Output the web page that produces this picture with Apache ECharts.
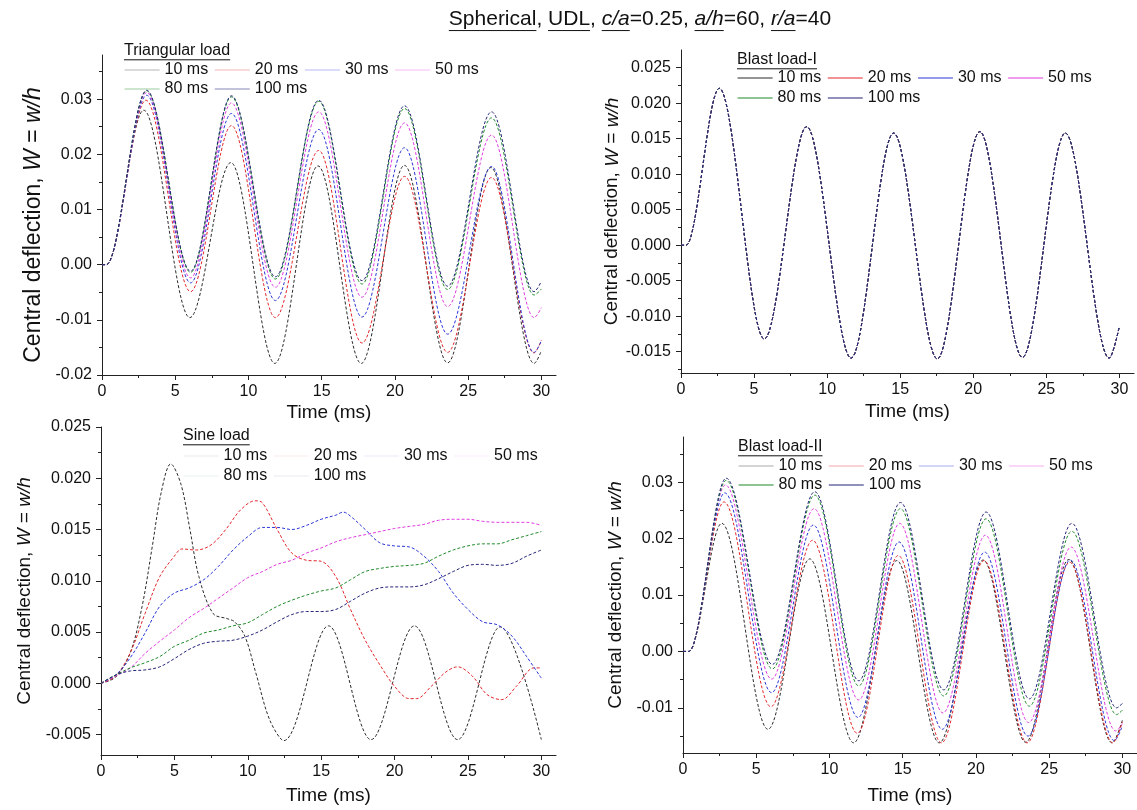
<!DOCTYPE html>
<html><head><meta charset="utf-8">
<script src="https://cdn.jsdelivr.net/npm/echarts@6/dist/echarts.min.js"></script>
<style>html,body{margin:0;padding:0;background:#fff}#c{width:1137px;height:810px}</style>
</head><body><div id="c"></div>
<script>
const FONT = '"Liberation Sans", Arial, sans-serif';
const SERIES_NAMES = ['10 ms', '20 ms', '30 ms', '50 ms', '80 ms', '100 ms'];
const COLORS = ['#2b2b2b', '#e3262b', '#2b35d6', '#e03ae0', '#1f8a2a', '#232379'];
const X_TICKS = [0, 5, 10, 15, 20, 25, 30];
const X_MINOR = [2.5, 7.5, 12.5, 17.5, 22.5, 27.5];

// ---------- Triangular load (time ms, W) ----------
const tri10 = [[0,0],[0.3,0],[2.85,0.0280],[6.0,-0.0096],[8.8,0.0185],[11.8,-0.0179],[14.75,0.0179],[17.7,-0.0179],[20.65,0.0180],[23.6,-0.0178],[26.55,0.0176],[29.5,-0.0179],[30,-0.0156]];
const tri20 = [[0,0],[0.3,0],[3.0,0.0298],[6.05,-0.0049],[8.84,0.0252],[11.84,-0.0096],[14.8,0.0207],[17.75,-0.0142],[20.66,0.0160],[23.6,-0.0159],[26.6,0.0158],[29.5,-0.0160],[30,-0.0137]];
const tri30 = [[0,0],[0.3,0],[3.05,0.0307],[6.05,-0.0033],[8.84,0.0274],[11.84,-0.0065],[14.8,0.0245],[17.75,-0.0095],[20.66,0.0212],[23.6,-0.0126],[26.6,0.0178],[29.5,-0.0159],[30,-0.0138]];
const tri50 = [[0,0],[0.3,0],[3.05,0.0312],[6.05,-0.0024],[8.84,0.0293],[11.84,-0.0041],[14.8,0.0277],[17.75,-0.0059],[20.66,0.0257],[23.6,-0.0076],[26.6,0.0235],[29.5,-0.0096],[30,-0.0078]];
const tri80 = [[0,0],[0.3,0],[3.05,0.0315],[6.05,-0.0014],[8.84,0.0304],[11.84,-0.0026],[14.8,0.0296],[17.75,-0.0035],[20.66,0.0283],[23.6,-0.0045],[26.6,0.0266],[29.5,-0.0055],[30,-0.0044]];
const tri100 = [[0,0],[0.3,0],[3.05,0.0316],[6.05,-0.0012],[8.84,0.0306],[11.84,-0.0022],[14.8,0.0298],[17.75,-0.0029],[20.66,0.0288],[23.6,-0.0039],[26.6,0.0277],[29.5,-0.0049],[30,-0.0030]];

// ---------- Blast load-I (all durations coincide) ----------
const blastI = [[0,0],[0.35,0],[2.62,0.0221],[5.7,-0.0132],[8.6,0.0167],[11.64,-0.0159],[14.55,0.0158],[17.54,-0.0160],[20.45,0.0160],[23.36,-0.0158],[26.3,0.0158],[29.3,-0.0159],[30,-0.0114]];

// ---------- Sine load ----------
const sin10 = [[0,0],[1,0.0006],[2,0.0030],[2.8,0.0075],[3.5,0.0134],[4.1,0.0186],[4.75,0.0214],[5.45,0.0194],[6.06,0.0150],[6.67,0.0104],[7.64,0.0068],[8.6,0.0063],[9.1,0.0060],[9.8,0.0046],[10.55,0.0010],[11.5,-0.0036],[12.45,-0.0056],[15.5,0.0056],[18.4,-0.0055],[21.35,0.0056],[24.3,-0.0055],[27.2,0.0055],[30,-0.0055]];
const sin20 = [[0,0],[1,0.0007],[2,0.0030],[3,0.0068],[4,0.0104],[5,0.0124],[5.5,0.0131],[6.5,0.0130],[7.5,0.0135],[8.5,0.0150],[9.5,0.0169],[10.5,0.0178],[11,0.0176],[12,0.0150],[13,0.0127],[14,0.0120],[15,0.0119],[16,0.0104],[17,0.0072],[18,0.0042],[19,0.0018],[20,-0.0003],[21,-0.0015],[21.5,-0.0015],[22.5,-0.0003],[23.5,0.0011],[24.3,0.0016],[25.3,0.0007],[26.3,-0.0011],[27.3,-0.0016],[28.3,-0.0003],[29.5,0.0015],[30,0.0015]];
const sin30 = [[0,0],[1,0.0008],[2,0.0025],[3,0.0049],[4,0.0075],[5,0.0088],[6,0.0093],[7,0.0101],[8,0.0114],[9,0.0130],[10,0.0143],[11,0.0152],[12,0.0152],[13,0.0150],[14,0.0154],[15,0.0160],[16,0.0164],[16.5,0.0167],[17,0.0163],[18,0.0150],[19,0.0137],[20,0.0134],[21,0.0133],[22,0.0124],[23,0.0109],[24,0.0088],[25,0.0072],[26,0.0060],[27,0.0057],[28,0.0046],[29,0.0026],[30,0.0005]];
const sin50 = [[0,0],[1,0.0007],[2,0.0015],[3,0.0029],[4,0.0041],[5,0.0052],[6,0.0064],[7,0.0073],[8,0.0083],[9,0.0093],[10,0.0103],[11,0.0109],[12,0.0116],[13,0.0120],[14,0.0127],[15,0.0132],[16,0.0138],[17,0.0142],[18,0.0145],[19,0.0148],[20,0.0151],[21,0.0153],[22,0.0155],[23,0.0159],[24,0.0160],[25,0.0160],[26,0.0158],[27,0.0157],[28,0.0157],[29,0.0157],[30,0.0154]];
const sin80 = [[0,0],[1,0.0008],[2,0.0015],[3,0.0020],[4,0.0026],[5,0.0036],[6,0.0042],[7,0.0049],[8,0.0052],[9,0.0056],[10,0.0059],[11,0.0067],[12,0.0075],[13,0.0081],[14,0.0086],[15,0.0090],[16,0.0093],[17,0.0101],[18,0.0109],[19,0.0112],[20,0.0114],[21,0.0115],[22,0.0117],[23,0.0124],[24,0.0130],[25,0.0134],[26,0.0136],[27,0.0136],[28,0.0140],[29,0.0144],[30,0.0148]];
const sin100 = [[0,0],[1,0.0008],[2,0.0012],[3,0.0013],[4,0.0016],[5,0.0024],[6,0.0033],[7,0.0039],[8,0.0041],[9,0.0042],[10,0.0046],[11,0.0052],[12,0.0060],[13,0.0067],[14,0.0070],[15,0.0070],[16,0.0072],[17,0.0080],[18,0.0088],[19,0.0093],[20,0.0094],[21,0.0094],[22,0.0096],[23,0.0102],[24,0.0109],[25,0.0115],[26,0.0116],[27,0.0115],[28,0.0117],[29,0.0124],[30,0.0130]];

// ---------- Blast load-II ----------
const bl2_10 = [[0,0],[0.4,0],[2.65,0.0227],[5.8,-0.0138],[8.65,0.0164],[11.65,-0.0162],[14.6,0.0161],[17.5,-0.0162],[20.5,0.0162],[23.4,-0.0161],[26.35,0.0163],[29.3,-0.0162],[30,-0.0122]];
const bl2_20 = [[0,0],[0.4,0],[2.8,0.0265],[6.0,-0.0098],[8.85,0.0197],[11.9,-0.0145],[14.7,0.0170],[17.65,-0.0162],[20.55,0.0161],[23.5,-0.0162],[26.4,0.0158],[29.35,-0.0162],[30,-0.0125]];
const bl2_30 = [[0,0],[0.4,0],[2.85,0.0281],[6.05,-0.0073],[8.9,0.0224],[11.95,-0.0117],[14.75,0.0194],[17.7,-0.0138],[20.6,0.0176],[23.55,-0.0150],[26.45,0.0162],[29.45,-0.0158],[30,-0.0132]];
const bl2_50 = [[0,0],[0.4,0],[2.9,0.0295],[6.05,-0.0049],[8.95,0.0253],[12.0,-0.0086],[14.8,0.0227],[17.75,-0.0109],[20.65,0.0206],[23.6,-0.0126],[26.5,0.0185],[29.55,-0.0141],[30,-0.0128]];
const bl2_80 = [[0,0],[0.4,0],[2.95,0.0303],[6.1,-0.0031],[9.0,0.0277],[12.0,-0.0061],[14.85,0.0253],[17.8,-0.0079],[20.7,0.0235],[23.65,-0.0097],[26.55,0.0213],[29.6,-0.0112],[30,-0.0104]];
const bl2_100 = [[0,0],[0.4,0],[2.95,0.0307],[6.1,-0.0023],[9.0,0.0283],[12.0,-0.0052],[14.85,0.0264],[17.8,-0.0068],[20.7,0.0247],[23.65,-0.0084],[26.55,0.0227],[29.6,-0.0100],[30,-0.0092]];

// ---------- axis tick values ----------
const TL_Y = [-0.02, -0.01, 0, 0.01, 0.02, 0.03];
const TL_YMIN = [-0.015, -0.005, 0.005, 0.015, 0.025, 0.035];
const TR_Y = [-0.015, -0.01, -0.005, 0, 0.005, 0.01, 0.015, 0.02, 0.025];
const TR_YMIN = [-0.0175, -0.0125, -0.0075, -0.0025, 0.0025, 0.0075, 0.0125, 0.0175, 0.0225];
const BL_Y = [-0.005, 0, 0.005, 0.01, 0.015, 0.02, 0.025];
const BL_YMIN = [-0.0025, 0.0025, 0.0075, 0.0125, 0.0175, 0.0225];
const BR_Y = [-0.01, 0, 0.01, 0.02, 0.03];
const BR_YMIN = [-0.015, -0.005, 0.005, 0.015, 0.025, 0.035];

const panels = [
  { grid: {left: 102, top: 55, width: 454, height: 320}, ymin: -0.02, ymax: 0.038, yt: TL_Y, ym: TL_YMIN, dec: 2,
    data: [tri10, tri20, tri30, tri50, tri80, tri100], mono: true, yGap: 57, xGap: 28, yFs: 23, yPad: [0, 20, 0, 0],
    lg: {title: 'Triangular load', left: 124, t: 51, r1: 70, r2: 89, op: [0.35, 0.35, 0.35, 0.35, 0.45, 0.55]} },
  { grid: {left: 681, top: 50, width: 453, height: 323}, ymin: -0.018, ymax: 0.0275, yt: TR_Y, ym: TR_YMIN, dec: 3,
    data: [blastI, blastI, blastI, blastI, blastI, blastI], mono: true, yGap: 57, xGap: 29, yFs: 19, yPad: 0,
    lg: {title: 'Blast load-I', left: 737, t: 60, r1: 78, r2: 98, op: [1, 1, 1, 1, 1, 1]} },
  { grid: {left: 101, top: 427, width: 455, height: 328}, ymin: -0.007, ymax: 0.025, yt: BL_Y, ym: BL_YMIN, dec: 3,
    data: [sin10, sin20, sin30, sin50, sin80, sin100], mono: false, yGap: 67, xGap: 31, yFs: 19, yPad: 0,
    lg: {title: 'Sine load', left: 183, t: 436, r1: 456, r2: 476, op: [0.1, 0.1, 0.1, 0.1, 0.1, 0.1]} },
  { grid: {left: 683, top: 437, width: 457, height: 316}, ymin: -0.018, ymax: 0.038, yt: BR_Y, ym: BR_YMIN, dec: 2,
    data: [bl2_10, bl2_20, bl2_30, bl2_50, bl2_80, bl2_100], mono: true, yGap: 58, xGap: 33, yFs: 19, yPad: 0,
    lg: {title: 'Blast load-II', left: 738, t: 447, r1: 466, r2: 485, op: [0.4, 0.4, 0.4, 0.4, 1, 1]} }
];

const mctx = document.createElement('canvas').getContext('2d');
function measure(text, size, italic) {
  mctx.font = (italic ? 'italic ' : '') + size + 'px "Liberation Sans"';
  return mctx.measureText(text).width;
}
function underlinedText(segs, x, y, size, align) {
  const total = segs.reduce((s, g) => s + measure(g.t, size, g.i), 0);
  let cx = align === 'center' ? x - total / 2 : x;
  const els = [];
  segs.forEach(g => {
    const w = measure(g.t, size, g.i);
    els.push({ type: 'text', x: cx, y: y, silent: true,
      style: { text: g.t, font: (g.i ? 'italic ' : '') + size + 'px "Liberation Sans"', fill: '#111', align: 'left', verticalAlign: 'middle' } });
    if (g.u) els.push({ type: 'line', silent: true, shape: { x1: cx, y1: y + size * 0.55, x2: cx + w, y2: y + size * 0.55 }, style: { stroke: '#111', lineWidth: 1 } });
    cx += w;
  });
  return els;
}

const grids = [], xAxes = [], yAxes = [], series = [], legends = [];
let graphics = underlinedText([
  {t: 'Spherical', u: 1}, {t: ', '}, {t: 'UDL', u: 1}, {t: ', '}, {t: 'c/a', u: 1, i: 1}, {t: '=0.25, '},
  {t: 'a/h', u: 1, i: 1}, {t: '=60, '}, {t: 'r/a', u: 1, i: 1}, {t: '=40'}
], 640, 19, 21, 'center');

const axisCol = '#222';
panels.forEach((p, gi) => {
  grids.push(Object.assign({ containLabel: false }, p.grid));
  xAxes.push({ type: 'value', gridIndex: gi, min: 0, max: 31, position: 'bottom',
    axisLine: { show: true, onZero: false, lineStyle: { color: axisCol, width: 1 } },
    axisTick: { show: true, inside: false, length: 5, customValues: X_TICKS, lineStyle: { color: axisCol } },
    axisLabel: { show: true, customValues: X_TICKS, margin: 9, fontSize: 16, color: '#111', fontFamily: FONT, formatter: v => String(Math.round(v)) },
    splitLine: { show: false }, name: 'Time (ms)', nameLocation: 'middle', nameGap: p.xGap,
    nameTextStyle: { fontSize: 19, color: '#111', fontFamily: FONT } });
  xAxes.push({ type: 'value', gridIndex: gi, min: 0, max: 31, position: 'bottom',
    axisLine: { show: false, onZero: false }, axisLabel: { show: false }, splitLine: { show: false },
    axisTick: { show: true, inside: false, length: 3, customValues: X_MINOR, lineStyle: { color: axisCol } } });
  yAxes.push({ type: 'value', gridIndex: gi, min: p.ymin, max: p.ymax, position: 'left',
    axisLine: { show: true, onZero: false, lineStyle: { color: axisCol, width: 1 } },
    axisTick: { show: true, inside: false, length: 5, customValues: p.yt, lineStyle: { color: axisCol } },
    axisLabel: { show: true, customValues: p.yt, margin: 10, fontSize: 16, color: '#111', fontFamily: FONT, formatter: v => v.toFixed(p.dec) },
    splitLine: { show: false },
    name: '{n|Central deflection, }{i|W}{n| = }{i|w/h}', nameLocation: 'middle', nameGap: p.yGap,
    nameTextStyle: { fontSize: p.yFs, color: '#111', fontFamily: FONT, padding: p.yPad,
      rich: { n: { fontSize: p.yFs, fontFamily: FONT, color: '#111' }, i: { fontSize: p.yFs, fontFamily: FONT, fontStyle: 'italic', color: '#111' } } } });
  yAxes.push({ type: 'value', gridIndex: gi, min: p.ymin, max: p.ymax, position: 'left', offset: 0,
    axisLine: { show: false, onZero: false }, axisLabel: { show: false }, splitLine: { show: false },
    axisTick: { show: true, inside: false, length: 3, customValues: p.ym, lineStyle: { color: axisCol } } });

  p.data.forEach((d, si) => {
    series.push({ type: 'line', name: SERIES_NAMES[si], xAxisIndex: gi * 2, yAxisIndex: gi * 2, data: d,
      showSymbol: false, symbol: 'none', smooth: 0.34, smoothMonotone: p.mono ? 'x' : null,
      lineStyle: { color: COLORS[si], width: 1, type: [3, 2] }, itemStyle: { color: COLORS[si] },
      silent: true, animation: false, clip: true });
  });

  const mkItem = i => ({ name: SERIES_NAMES[i], itemStyle: { opacity: 0 },
    lineStyle: { color: COLORS[i], opacity: p.lg.op[i], width: 1.2, type: 'solid' } });
  const common = { show: true, orient: 'horizontal', padding: 0, itemWidth: 35, itemHeight: 16, itemGap: 6, selectedMode: false,
    textStyle: { fontSize: 16, color: '#111', fontFamily: FONT } };
  legends.push(Object.assign({ left: p.lg.left, top: p.lg.r1 - 8, data: [0, 1, 2, 3].map(mkItem) }, common));
  legends.push(Object.assign({ left: p.lg.left, top: p.lg.r2 - 8, data: [4, 5].map(mkItem) }, common));
  graphics = graphics.concat(underlinedText([{t: p.lg.title, u: 1}], p.lg.left, p.lg.t, 16, 'left'));
});

const chart = echarts.init(document.getElementById('c'), null, { renderer: 'canvas', width: 1137, height: 810 });
chart.setOption({
  animation: false, backgroundColor: '#fff',
  grid: grids, xAxis: xAxes, yAxis: yAxes, series: series, legend: legends,
  graphic: { elements: graphics }
});
</script></body></html>
